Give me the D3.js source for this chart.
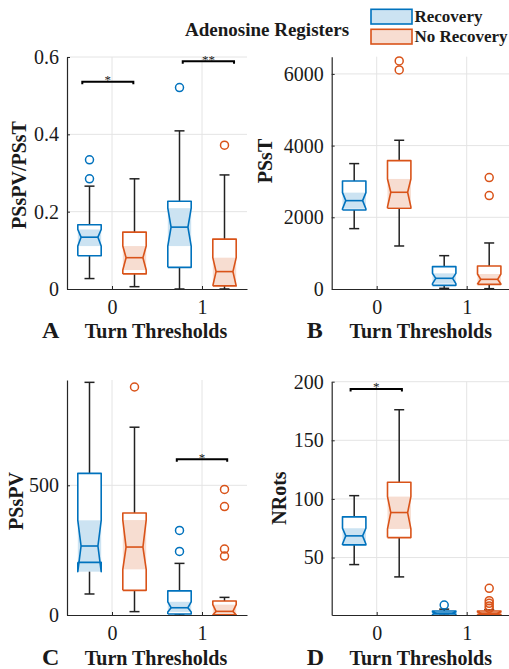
<!DOCTYPE html>
<html>
<head>
<meta charset="utf-8">
<script src="https://cdn.jsdelivr.net/npm/d3@7"></script>
<style>
  body { margin: 0; background: #fff; }
</style>
</head>
<body>
<div class="chart"></div>
<script>
// box stats: [whiskerLo, q1, notchLo, median, notchHi, q3, whiskerHi], one row per turn threshold (0, 1)
var thresholds = [0, 1];

var ratioRecovery = [[0.027, 0.086, 0.111, 0.134, 0.154, 0.166, 0.266], [0, 0.056, 0.111, 0.160, 0.209, 0.227, 0.409]];
var ratioNoRecovery = [[0.006, 0.039, 0.049, 0.081, 0.111, 0.147, 0.285], [0, 0.008, 0.008, 0.045, 0.081, 0.129, 0.295]];
var ratioRecoveryOut = [[0.285, 0.334], [0.521]];
var ratioNoRecoveryOut = [[], [0.372]];

var pssTRecovery = [[1684, 2205, 2240, 2465, 2688, 3014, 3498], [19, 102, 150, 298, 437, 623, 930]];
var pssTNoRecovery = [[1200, 2251, 2290, 2698, 3070, 3581, 4149], [9, 130, 140, 270, 419, 642, 1284]];
var pssTRecoveryOut = [[], []];
var pssTNoRecoveryOut = [[6112, 6363], [2605, 3107]];

var pssPVRecovery = [[81, 203, 167, 266, 365, 546, 897], [0, 4, 12, 28, 51, 93, 199]];
var pssPVNoRecovery = [[13, 95, 176, 262, 366, 393, 724], [0, 1, 0, 14, 40, 54, 68]];
var pssPVRecoveryOut = [[], [245, 326]];
var pssPVNoRecoveryOut = [[879], [227, 254, 418, 484]];

var nRotsRecovery = [[44, 60.8, 61.5, 68.5, 75, 84.7, 102.8], [1, 1.9, 1.5, 2.6, 3.5, 4.4, 6]];
var nRotsNoRecovery = [[33.5, 67, 74.4, 88.4, 102, 114.2, 176.1], [1, 1.5, 1, 2.6, 3.5, 4.4, 5.5]];
var nRotsRecoveryOut = [[], [9.5]];
var nRotsNoRecoveryOut = [[], [6.7, 8.7, 11, 13.2, 23.8]];

// significance brackets: [threshold, from, to, y, stars]
var ratioSig = [[0, -0.33, 0.237, 0.536, "*"], [1, -0.214, 0.356, 0.589, "**"]];
var pssPVSig = [[1, -0.28, 0.28, 600, "*"]];
var nRotsSig = [[0, -0.29, 0.28, 193.8, "*"]];

var ratioTicks = [0, 0.2, 0.4, 0.6];
var pssTTicks = [0, 2000, 4000, 6000];
var pssPVTicks = [0, 500];
var nRotsTicks = [50, 100, 150, 200];

var colors = { rec: "#0072BD", norec: "#D95319" };
var fills = { rec: "#cce3f2", norec: "#f7ddd1" };
var serif = "'Liberation Serif', 'Times New Roman', Times, serif";

var svg = d3.select(".chart")
  .append("svg")
  .attr("width", 509)
  .attr("height", 669)
  .style("font-family", serif);

var panels = [
  { letter: "A", label: "PSsPV/PSsT", left: 67, top: 57, bottom: 289, yDomain: [0, 0.6], ticks: ratioTicks,
    fmt: d3.format("~g"), rec: ratioRecovery, norec: ratioNoRecovery, recOut: ratioRecoveryOut, norecOut: ratioNoRecoveryOut,
    sig: ratioSig, labelPos: [19, 175] },
  { letter: "B", label: "PSsT", left: 331.7, top: 56.7, bottom: 289, yDomain: [0, 6480], ticks: pssTTicks,
    fmt: d3.format("d"), rec: pssTRecovery, norec: pssTNoRecovery, recOut: pssTRecoveryOut, norecOut: pssTNoRecoveryOut,
    sig: [], labelPos: [265, 161] },
  { letter: "C", label: "PSsPV", left: 67, top: 380, bottom: 615, yDomain: [0, 906], ticks: pssPVTicks,
    fmt: d3.format("d"), rec: pssPVRecovery, norec: pssPVNoRecovery, recOut: pssPVRecoveryOut, norecOut: pssPVNoRecoveryOut,
    sig: pssPVSig, labelPos: [16, 501] },
  { letter: "D", label: "NRots", left: 331.7, top: 381.7, bottom: 615, yDomain: [1, 200], ticks: nRotsTicks,
    fmt: d3.format("d"), rec: nRotsRecovery, norec: nRotsNoRecovery, recOut: nRotsRecoveryOut, norecOut: nRotsNoRecoveryOut,
    sig: nRotsSig, labelPos: [279, 498] }
];

// draws one notched box (MATLAB style path, notch band shaded)
function drawBox(g, x, y, t, offset, s, key, outliers) {
  var cx = x(t + offset);
  var half = (x(0.13) - x(0));
  var L = cx - half, R = cx + half, n = half * 0.28, cap = 5;
  var wLo = y(s[0]), q1 = y(s[1]), nLo = y(s[2]), med = y(s[3]), nHi = y(s[4]), q3 = y(s[5]), wHi = y(s[6]);

  // whiskers
  g.append("line").attr("x1", cx).attr("x2", cx).attr("y1", q1).attr("y2", wLo)
    .attr("stroke", "#222").attr("stroke-width", 1.5);
  g.append("line").attr("x1", cx).attr("x2", cx).attr("y1", q3).attr("y2", wHi)
    .attr("stroke", "#222").attr("stroke-width", 1.5);
  g.append("line").attr("x1", cx - cap).attr("x2", cx + cap).attr("y1", wLo).attr("y2", wLo)
    .attr("stroke", "#222").attr("stroke-width", 1.5);
  g.append("line").attr("x1", cx - cap).attr("x2", cx + cap).attr("y1", wHi).attr("y2", wHi)
    .attr("stroke", "#222").attr("stroke-width", 1.5);

  // white body and shaded notch band
  g.append("rect").attr("x", L).attr("y", q3).attr("width", R - L).attr("height", Math.max(q1 - q3, 0))
    .attr("fill", "#fff");
  g.append("rect").attr("x", L).attr("y", nHi).attr("width", R - L).attr("height", Math.max(nLo - nHi, 0))
    .attr("fill", fills[key]);

  var pts = [[L, q1], [L, nLo], [L + n, med], [L, nHi], [L, q3], [R, q3], [R, nHi], [R - n, med], [R, nLo], [R, q1], [L, q1]];
  g.append("path")
    .attr("d", d3.line()(pts))
    .attr("fill", "none")
    .attr("stroke", colors[key])
    .attr("stroke-width", 1.6)
    .attr("stroke-linejoin", "round");
  g.append("line").attr("x1", L + n).attr("x2", R - n).attr("y1", med).attr("y2", med)
    .attr("stroke", colors[key]).attr("stroke-width", 1.6);

  g.selectAll(null)
    .data(outliers)
    .enter()
    .append("circle")
    .attr("cx", cx)
    .attr("cy", d => y(d))
    .attr("r", 4)
    .attr("fill", "none")
    .attr("stroke", colors[key])
    .attr("stroke-width", 1.5);
}

panels.forEach(function (p) {
  var g = svg.append("g");

  var x = d3.scaleLinear().domain([-0.5, 1.5]).range([p.left, p.left + 180]);
  var y = d3.scaleLinear().domain(p.yDomain).range([p.bottom, p.top]);

  // grid
  g.selectAll(null)
    .data(p.ticks.filter(d => d > p.yDomain[0]))
    .enter()
    .append("line")
    .attr("x1", p.left).attr("x2", p.left + 180)
    .attr("y1", d => y(d)).attr("y2", d => y(d))
    .attr("stroke", "#e4e4e4").attr("stroke-width", 1);
  g.selectAll(null)
    .data(thresholds)
    .enter()
    .append("line")
    .attr("x1", d => x(d)).attr("x2", d => x(d))
    .attr("y1", p.top).attr("y2", p.bottom)
    .attr("stroke", "#e4e4e4").attr("stroke-width", 1);

  thresholds.forEach(function (t, i) {
    drawBox(g, x, y, t, -0.25, p.rec[i], "rec", p.recOut[i]);
    drawBox(g, x, y, t, 0.25, p.norec[i], "norec", p.norecOut[i]);
  });

  // significance brackets
  p.sig.forEach(function (s) {
    var x0 = x(s[0] + s[1]), x1 = x(s[0] + s[2]), yy = y(s[3]);
    g.append("path")
      .attr("d", d3.line()([[x0, yy + 2.5], [x0, yy], [x1, yy], [x1, yy + 2.5]]))
      .attr("fill", "none").attr("stroke", "#000").attr("stroke-width", 2);
    g.append("text")
      .attr("x", (x0 + x1) / 2).attr("y", yy + 2.5)
      .attr("text-anchor", "middle")
      .style("font-size", "13px")
      .text(s[4]);
  });

  // axes
  var leftAxis = d3.axisLeft(y).tickValues(p.ticks).tickFormat(p.fmt).tickSizeInner(-3).tickSizeOuter(0).tickPadding(8);
  var bottomAxis = d3.axisBottom(x).tickValues(thresholds).tickFormat(d3.format("d")).tickSizeInner(-3).tickSizeOuter(0).tickPadding(11);

  var ya = g.append("g").attr("transform", `translate(${p.left}, 0)`).call(leftAxis);
  var xa = g.append("g").attr("transform", `translate(0, ${p.bottom})`).call(bottomAxis);
  [ya, xa].forEach(function (a) {
    a.attr("font-family", null).attr("font-size", null);
    a.select(".domain").attr("stroke", "#262626").attr("stroke-width", 1.2);
    a.selectAll(".tick line").attr("stroke", "#262626");
    a.selectAll(".tick text").style("font-size", "20px");
  });

  // labels
  g.append("text")
    .attr("transform", `translate(${p.labelPos[0]}, ${p.labelPos[1]}) rotate(-90)`)
    .attr("text-anchor", "middle")
    .attr("dy", "0.35em")
    .style("font-size", "20px")
    .style("font-weight", "bold")
    .text(p.label);

  var baseY = p.bottom + (p.bottom > 400 ? 50 : 49);
  g.append("text")
    .attr("x", p.left - 25)
    .attr("y", baseY)
    .style("font-size", "24px")
    .style("font-weight", "bold")
    .text(p.letter);
  g.append("text")
    .attr("x", p.left + 89)
    .attr("y", baseY)
    .attr("text-anchor", "middle")
    .style("font-size", "20px")
    .style("font-weight", "bold")
    .text("Turn Thresholds");
});

// legend
svg.append("text")
  .attr("x", 185).attr("y", 35.5)
  .style("font-size", "19px")
  .style("font-weight", "bold")
  .text("Adenosine Registers");

var legendItems = [["rec", "Recovery", 9.3], ["norec", "No Recovery", 29.3]];
legendItems.forEach(function (d) {
  svg.append("rect")
    .attr("x", 371).attr("y", d[2])
    .attr("width", 41).attr("height", 14.7)
    .attr("fill", fills[d[0]])
    .attr("stroke", colors[d[0]])
    .attr("stroke-width", 1.6);
  svg.append("text")
    .attr("x", 414.5).attr("y", d[2] + 12.2)
    .style("font-size", "17px")
    .style("font-weight", "bold")
    .text(d[1]);
});

// force the serif family and dark fill on every text
svg.selectAll("text")
  .style("font-family", serif)
  .style("fill", "#1a1a1a");
</script>
</body>
</html>
